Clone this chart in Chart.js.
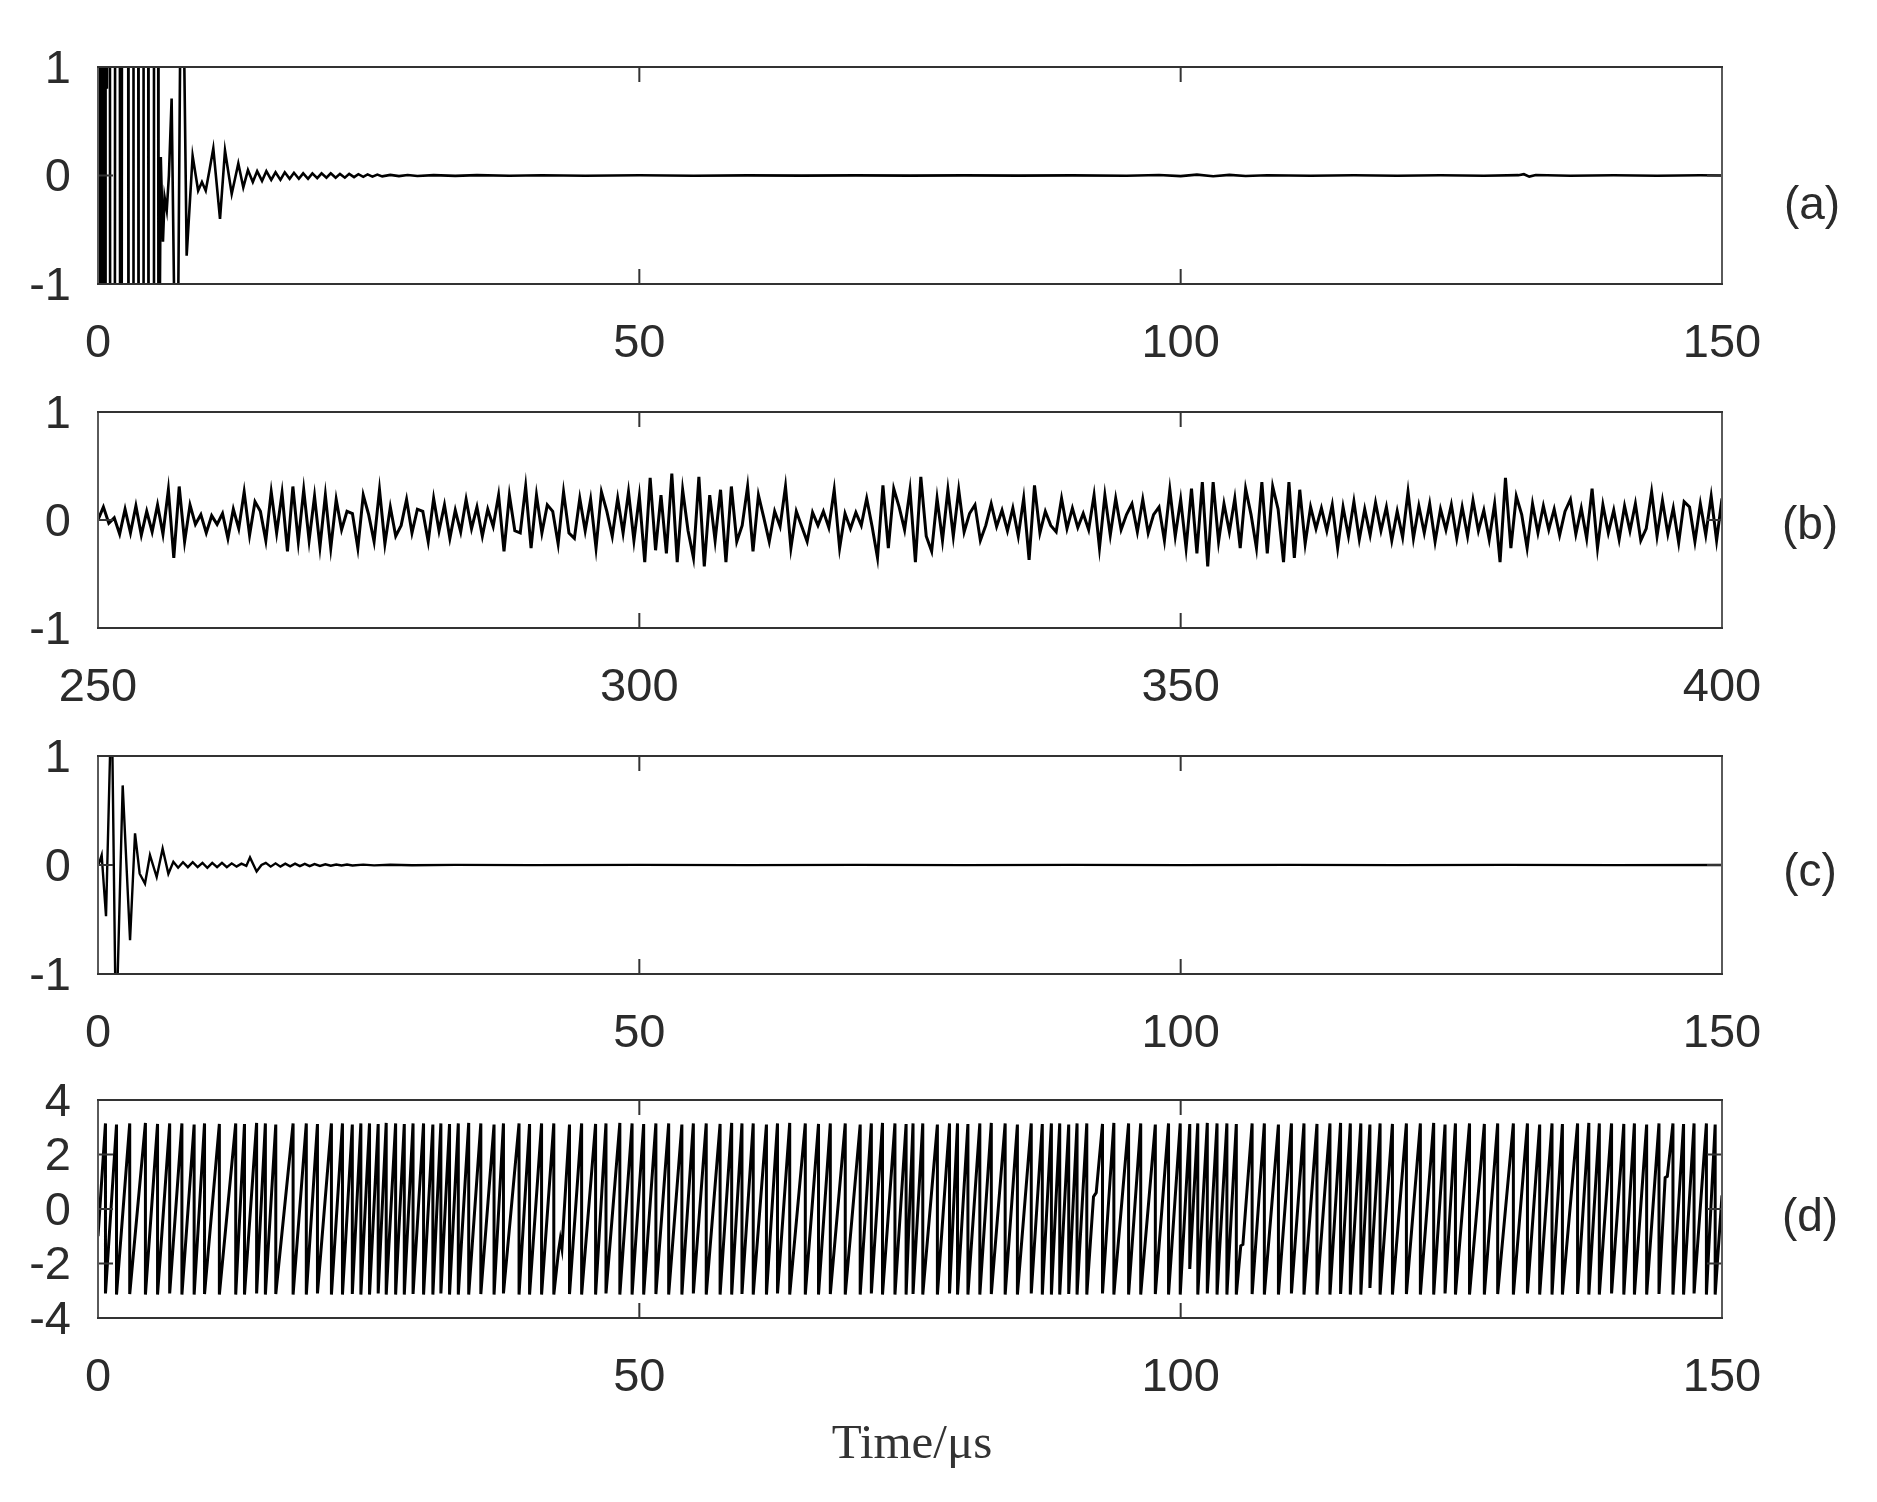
<!DOCTYPE html>
<html lang="en">
<head>
<meta charset="utf-8">
<title>Sinais no tempo</title>
<script src="https://cdn.jsdelivr.net/npm/chart.js@4.4.1/dist/chart.umd.min.js"></script>
<style>
    html, body { margin: 0; padding: 0; background: #ffffff; }
    body { position: relative; width: 1877px; height: 1502px; overflow: hidden; }
    canvas { position: absolute; left: 0; }
    .letra {
        position: absolute; transform: translate(-50%, -50%); line-height: 1; white-space: nowrap;
        font-family: 'Liberation Sans', Arial, sans-serif; font-size: 46px; color: #2b2b2b;
    }
    #tituloX { font-family: 'Liberation Serif', 'Times New Roman', serif; font-size: 49px; color: #333333; }
</style>
</head>
<body>
<canvas id="graficoA" width="1877" height="367" style="top:7px"></canvas>
<canvas id="graficoB" width="1877" height="366" style="top:352px"></canvas>
<canvas id="graficoC" width="1877" height="368" style="top:696px"></canvas>
<canvas id="graficoD" width="1877" height="368" style="top:1040px"></canvas>
<div class="letra" style="left:1812px; top:203px">(a)</div>
<div class="letra" style="left:1810px; top:523px">(b)</div>
<div class="letra" style="left:1810px; top:870px">(c)</div>
<div class="letra" style="left:1810px; top:1215px">(d)</div>
<div id="tituloX" class="letra" style="left:912px; top:1441px">Time/μs</div>

<script>
// ticks
const ticksTempo = [0, 50, 100, 150];
const ticksTempoB = [250, 300, 350, 400];
const ticksSinal = [-1, 0, 1];
const ticksFase = [-4, -2, 0, 2, 4];

// (a) tempo (us) e amplitude; +-3 = fora da janela (cortado)
const tempoA = [
    0.00, 0.06, 0.10, 0.27, 0.31, 0.47, 0.51, 0.66, 0.70, 0.78,
    0.82, 0.90, 1.09, 1.13, 1.55, 1.59, 2.01, 2.05, 2.18, 2.22,
    2.78, 2.82, 3.24, 3.28, 3.71, 3.75, 4.17, 4.21, 4.63, 4.67,
    5.13, 5.17, 5.55, 5.59, 5.80,
    6.00, 6.15, 6.35, 6.55, 6.80, 7.27, 7.73, 8.19, 8.74, 9.25,
    9.60, 9.95, 10.30, 10.65, 11.27, 11.73, 12.35, 12.96, 13.42, 13.85,
    14.30, 14.70, 15.15, 15.55, 16.00, 16.40, 16.85, 17.25, 17.70, 18.10,
    18.55, 18.95, 19.40, 19.80, 20.25, 20.65, 21.10, 21.50, 21.95, 22.35,
    22.80, 23.20, 23.65, 24.05, 24.50, 24.90, 25.35, 25.80, 26.25, 27.00,
    27.80, 28.60, 29.50, 31.0, 33.0, 35.0, 38.0, 41.0, 45.0, 50.0,
    55.0, 60.0, 65.0, 70.0, 75.0, 80.0, 85.0, 90.0, 95.0, 98.0,
    100.0, 101.5, 103.0, 104.5, 106.0, 108.0, 112.0, 116.0, 120.0, 124.0,
    128.0, 131.2, 131.7, 132.2, 132.8, 136.0, 140.0, 144.0, 148.0, 150.0
];
const sinalA = [
    0.0, 3.0, -3.0, -3.0, 3.0, 3.0, -3.0, -3.0, 3.0, 3.0,
    0.8, 3.0, 3.0, -3.0, -3.0, 3.0, 3.0, -3.0, -3.0, 3.0,
    3.0, -3.0, -3.0, 3.0, 3.0, -3.0, -3.0, 3.0, 3.0, -3.0,
    -3.0, 3.0, 3.0, -3.0, 0.17,
    -0.61, -0.20, -0.32, 0.00, 0.71, -3.0, 3.0, -0.74, 0.18, -0.14,
    -0.06, -0.14, 0.05, 0.25, -0.40, 0.23, -0.17, 0.11, -0.11, 0.05,
    -0.06, 0.04, -0.05, 0.04, -0.04, 0.03, -0.04, 0.03, -0.03, 0.025,
    -0.03, 0.02, -0.03, 0.02, -0.025, 0.02, -0.02, 0.02, -0.02, 0.015,
    -0.02, 0.015, -0.015, 0.012, -0.012, 0.01, -0.01, 0.008, -0.008, 0.006,
    -0.006, 0.005, -0.004, 0.003, -0.003, 0.003, -0.002, 0.002, -0.002, 0.002,
    -0.002, 0.001, -0.001, 0.001, -0.001, 0.001, -0.001, 0.001, -0.002, 0.004,
    -0.006, 0.008, -0.007, 0.006, -0.004, 0.002, -0.002, 0.002, -0.002, 0.002,
    -0.002, 0.003, 0.012, -0.01, 0.004, -0.002, 0.002, -0.002, 0.002, 0.0
];

// (b) amostras a cada 0.5 us a partir de 250 us
const inicioB = 250;
const passoB = 0.5;
const sinalB = [
    0.00, 0.12, -0.03, 0.02, -0.13, 0.10, -0.12, 0.13, -0.14, 0.08,
    -0.11, 0.14, -0.13, 0.28, -0.35, 0.31, -0.20, 0.14, -0.04, 0.05,
    -0.12, 0.04, -0.04, 0.06, -0.17, 0.10, -0.08, 0.26, -0.14, 0.17,
    0.08, -0.19, 0.26, -0.12, 0.25, -0.29, 0.31, -0.20, 0.28, -0.19,
    0.22, -0.25, 0.23, -0.26, 0.19, -0.09, 0.08, 0.06, -0.26, 0.23,
    0.05, -0.20, 0.28, -0.22, 0.12, -0.15, -0.05, 0.19, -0.12, 0.10,
    0.08, -0.20, 0.20, -0.10, 0.14, -0.17, 0.09, -0.11, 0.19, -0.08,
    0.12, -0.15, 0.10, -0.06, 0.23, -0.29, 0.23, -0.10, -0.12, 0.31,
    -0.26, 0.23, -0.12, 0.14, 0.08, -0.22, 0.26, -0.12, -0.17, 0.20,
    -0.10, 0.19, -0.26, 0.26, 0.08, -0.15, 0.20, -0.12, 0.26, -0.19,
    0.22, -0.39, 0.39, -0.28, 0.23, -0.31, 0.43, -0.39, 0.28, -0.10,
    -0.35, 0.40, -0.43, 0.23, -0.19, 0.28, -0.39, 0.31, -0.20, -0.05,
    0.31, -0.29, 0.23, 0.02, -0.20, 0.08, -0.06, 0.31, -0.26, 0.08,
    -0.06, -0.20, 0.07, -0.05, 0.08, -0.07, 0.28, -0.26, 0.06, -0.08,
    0.07, -0.05, 0.20, -0.06, -0.35, 0.32, -0.26, 0.29, 0.12, -0.09,
    0.28, -0.39, 0.40, -0.15, -0.29, 0.20, -0.19, 0.28, -0.15, 0.28,
    -0.11, 0.06, 0.14, -0.19, -0.05, 0.15, -0.06, 0.09, -0.10, 0.11,
    -0.15, 0.20, -0.37, 0.32, -0.12, 0.08, -0.05, -0.11, 0.20, -0.08,
    0.11, -0.07, 0.06, -0.09, 0.23, -0.26, 0.23, -0.14, 0.20, -0.09,
    0.05, 0.15, -0.11, 0.19, -0.12, 0.05, 0.12, -0.19, 0.28, -0.15,
    0.19, -0.26, 0.29, -0.31, 0.35, -0.43, 0.35, -0.20, 0.15, -0.11,
    0.20, -0.26, 0.29, 0.05, -0.26, 0.35, -0.31, 0.31, 0.10, -0.39,
    0.35, -0.35, 0.28, -0.22, 0.12, -0.08, 0.11, -0.10, 0.14, -0.26,
    0.12, -0.15, 0.17, -0.18, 0.10, -0.14, 0.16, -0.10, 0.12, -0.19,
    0.08, -0.16, 0.26, -0.17, 0.13, -0.12, 0.15, -0.20, 0.10, -0.09,
    0.14, -0.17, 0.12, -0.15, 0.18, -0.10, 0.09, -0.18, 0.15, -0.39,
    0.39, -0.26, 0.22, 0.05, -0.26, 0.15, -0.12, 0.13, -0.09, 0.10,
    -0.14, 0.08, 0.19, -0.13, 0.11, -0.17, 0.29, -0.26, 0.14, -0.12,
    0.09, -0.18, 0.13, -0.10, 0.15, -0.19, -0.08, 0.26, -0.15, 0.18,
    -0.13, 0.11, -0.21, 0.17, 0.12, -0.20, 0.15, -0.14, 0.22, -0.19,
    0.20
];

// (c)
const tempoC = [
    0.00, 0.15, 0.34, 0.74, 1.26, 1.66, 2.28, 2.96, 3.42, 3.85,
    4.34, 4.80, 5.42, 5.97, 6.50, 6.96, 7.40, 7.85, 8.30, 8.75,
    9.20, 9.65, 10.10, 10.55, 11.00, 11.45, 11.90, 12.35, 12.80, 13.25,
    13.70, 14.04, 14.65, 15.10, 15.50, 15.95, 16.40, 16.85, 17.30, 17.75,
    18.20, 18.65, 19.10, 19.55, 20.00, 20.50, 21.00, 21.50, 22.00, 22.50,
    23.00, 23.50, 24.50, 25.50, 27.00, 29.00, 33.0, 40.0, 50.0, 60.0,
    70.0, 80.0, 90.0, 100.0, 110.0, 120.0, 130.0, 140.0, 150.0
];
const sinalC = [
    0.00, 0.03, 0.09, -0.47, 1.6, -1.6, 0.73, -0.69, 0.29, -0.08,
    -0.17, 0.09, -0.11, 0.15, -0.08, 0.03, -0.025, 0.025, -0.02, 0.025,
    -0.02, 0.02, -0.025, 0.02, -0.02, 0.02, -0.02, 0.015, -0.015, 0.012,
    -0.008, 0.07, -0.06, 0.00, 0.02, -0.015, 0.015, -0.015, 0.012, -0.012,
    0.012, -0.01, 0.01, -0.01, 0.008, -0.008, 0.007, -0.006, 0.005, -0.005,
    0.004, -0.004, 0.003, -0.003, 0.002, -0.002, 0.001, -0.001, 0.001, -0.001,
    0.001, -0.001, 0.001, -0.001, 0.001, -0.001, 0.001, -0.001, 0.0
];

// (d) fase: instantes de salto, valor antes e depois do salto
const saltosD = [
    0.69, 1.71, 2.93, 4.38, 5.50, 6.62, 7.75, 8.88, 9.84, 11.21,
    12.72, 13.53, 14.65, 15.46, 16.42, 18.02, 19.24, 20.27, 21.56, 22.58,
    23.49, 24.28, 25.08, 25.88, 26.62, 27.49, 28.29, 29.10, 30.07, 30.93,
    31.67, 32.47, 33.28, 34.24, 35.36, 36.58, 37.45, 38.89, 39.86, 40.97,
    42.10, 43.55, 44.67, 45.96, 46.92, 48.20, 49.33, 50.40, 51.53, 52.71,
    53.93, 54.99, 56.18, 57.46, 58.53, 59.48, 60.52, 61.74, 62.76, 63.89,
    65.33, 66.55, 67.64, 69.02, 70.40, 71.43, 72.46, 73.61, 74.64, 75.28,
    76.18, 77.53, 78.65, 79.39, 80.35, 81.45, 82.51, 83.79, 84.92, 86.20,
    87.22, 88.06, 88.83, 89.66, 90.43, 91.33, 92.78, 93.83, 95.19, 96.31,
    97.66, 98.88, 99.96, 100.84, 101.58, 102.46, 103.36, 104.27, 105.14, 106.60,
    107.73, 109.03, 110.23, 111.39, 112.59, 113.79, 114.77, 115.67, 116.64, 117.48,
    118.42, 119.56, 120.85, 122.14, 123.37, 124.42, 125.38, 126.68, 128.05, 129.28,
    130.73, 132.03, 133.16, 134.30, 135.26, 136.66, 137.70, 138.67, 139.80, 140.93,
    141.91, 143.04, 144.18, 145.47, 146.45, 147.42, 148.56, 149.37
];
const topoD = [
    3.14, 3.10, 3.14, 3.16, 3.12, 3.14, 3.14, 3.10, 3.14, 3.12,
    3.14, 3.12, 3.16, 3.14, 3.10, 3.14, 3.14, 3.12, 3.14, 3.14,
    3.10, 3.14, 3.14, 3.12, 3.16, 3.14, 3.12, 3.14, 3.14, 3.10,
    3.14, 3.12, 3.14, 3.16, 3.14, 3.10, 3.14, 3.14, 3.12, 3.14,
    3.14, 3.10, 3.14, 3.12, 3.14, 3.16, 3.14, 3.12, 3.14, 3.14,
    3.10, 3.14, 3.14, 3.12, 3.16, 3.14, 3.14, 3.10, 3.14, 3.16,
    3.14, 3.12, 3.14, 3.14, 3.10, 3.14, 3.16, 3.14, 3.12, 3.14,
    3.14, 3.10, 3.14, 3.14, 3.12, 3.14, 3.16, 3.14, 3.10, 3.14,
    3.12, 3.14, 3.14, 3.10, 3.14, 3.14, 3.12, 3.16, 3.14, 3.14,
    3.10, 3.14, 3.14, 3.12, 3.14, 3.16, 3.14, 3.14, 3.12, 3.14,
    3.14, 3.10, 3.14, 3.14, 3.12, 3.14, 3.16, 3.14, 3.14, 3.10,
    3.14, 3.12, 3.14, 3.14, 3.16, 3.10, 3.14, 3.14, 3.12, 3.14,
    3.14, 3.14, 3.10, 3.14, 3.12, 3.14, 3.16, 3.14, 3.14, 3.12,
    3.14, 3.10, 3.14, 3.14, 3.12, 3.14, 3.14, 3.10
];
const baseD = [
    -3.10, -3.14, -3.12, -3.14, -3.14, -3.10, -3.14, -3.14, -3.12, -3.14,
    -3.14, -3.14, -3.10, -3.14, -3.12, -3.14, -3.14, -3.10, -3.14, -3.14,
    -3.12, -3.14, -3.14, -3.10, -3.14, -3.14, -3.14, -3.12, -3.14, -3.14,
    -3.10, -3.14, -3.14, -3.14, -3.12, -3.14, -3.10, -3.14, -3.14, -3.14,
    -3.14, -3.12, -3.14, -3.14, -3.10, -3.14, -3.14, -3.14, -3.12, -3.14,
    -3.14, -3.10, -3.14, -3.14, -3.14, -3.12, -3.14, -3.14, -3.10, -3.14,
    -3.14, -3.14, -3.12, -3.14, -3.14, -3.10, -3.14, -3.14, -3.14, -3.12,
    -3.14, -3.14, -3.10, -3.14, -3.14, -3.14, -3.12, -3.14, -3.14, -3.10,
    -3.14, -3.14, -3.14, -3.12, -3.14, -3.14, -3.10, -3.14, -3.14, -3.14,
    -3.12, -3.14, -3.14, -2.20, -3.14, -3.10, -3.14, -3.14, -3.14, -3.12,
    -3.14, -3.14, -3.10, -3.14, -3.14, -3.14, -3.12, -3.14, -3.14, -2.90,
    -3.14, -3.14, -3.12, -3.14, -3.14, -3.10, -3.14, -3.14, -3.14, -3.12,
    -3.14, -3.10, -3.14, -3.14, -3.14, -3.12, -3.14, -3.14, -3.10, -3.14,
    -3.14, -3.14, -3.12, -3.14, -3.14, -3.10, -3.14, -3.14
];
// pontos fora do dente de serra (inicio, fim e pequenos desvios)
const tempoExtraD = [0.00, 42.55, 42.70, 42.85, 91.95, 92.20, 105.55, 105.75, 144.75, 144.95, 150.0];
const faseExtraD = [-1.0, -1.5, -1.1, -1.45, 0.45, 0.60, -1.35, -1.30, 1.15, 1.20, 0.50];

(function () {
    const paleta = {
        linha: '#000000',
        texto: '#2b2b2b',
        borda: '#333333',
        lateral: '#5a5a5a'
    };

    Chart.defaults.font.family = "'Liberation Sans', Arial, sans-serif";
    Chart.defaults.font.size = 47;
    Chart.defaults.color = paleta.texto;

    // moldura e marcas de escala para dentro
    const moldura = {
        id: 'moldura',
        afterDatasetsDraw(chart) {
            const { ctx, chartArea: { left, right, top, bottom }, scales: { x, y } } = chart;
            const tam = 15;
            ctx.save();
            ctx.lineWidth = 2;
            ctx.strokeStyle = paleta.borda;
            ctx.beginPath();
            x.ticks.forEach(t => {
                const px = x.getPixelForValue(t.value);
                ctx.moveTo(px, bottom); ctx.lineTo(px, bottom - tam);
                ctx.moveTo(px, top); ctx.lineTo(px, top + tam);
            });
            y.ticks.forEach(t => {
                const py = y.getPixelForValue(t.value);
                ctx.moveTo(left, py); ctx.lineTo(left + tam, py);
                ctx.moveTo(right, py); ctx.lineTo(right - tam, py);
            });
            ctx.stroke();
            ctx.strokeStyle = paleta.lateral;
            ctx.beginPath();
            ctx.moveTo(left, top); ctx.lineTo(left, bottom);
            ctx.moveTo(right, top); ctx.lineTo(right, bottom);
            ctx.stroke();
            ctx.strokeStyle = paleta.borda;
            ctx.beginPath();
            ctx.moveTo(left - 1, top); ctx.lineTo(right + 1, top);
            ctx.moveTo(left - 1, bottom); ctx.lineTo(right + 1, bottom);
            ctx.stroke();
            ctx.restore();
        }
    };

    function painel(canvas, pontos, listaX, listaY, espessura) {
        if (!canvas) return;
        new Chart(canvas, {
            type: 'line',
            data: {
                datasets: [{
                    data: pontos,
                    borderColor: paleta.linha,
                    borderWidth: espessura,
                    pointRadius: 0,
                    tension: 0,
                    fill: false
                }]
            },
            options: {
                responsive: false,
                animation: false,
                events: [],
                layout: { padding: { top: 60, right: 155, bottom: 0, left: 0 } },
                plugins: {
                    legend: { display: false },
                    tooltip: { enabled: false }
                },
                scales: {
                    x: {
                        type: 'linear',
                        min: listaX[0],
                        max: listaX[listaX.length - 1],
                        grid: { display: false, drawTicks: false },
                        border: { display: false },
                        ticks: { padding: 32, maxRotation: 0, autoSkip: false },
                        afterBuildTicks: s => { s.ticks = listaX.map(v => ({ value: v })); },
                        afterFit: s => { s.height = 90; }
                    },
                    y: {
                        min: listaY[0],
                        max: listaY[listaY.length - 1],
                        grid: { display: false, drawTicks: false },
                        border: { display: false },
                        ticks: { padding: 27, labelOffset: 3, autoSkip: false },
                        afterBuildTicks: s => { s.ticks = listaY.map(v => ({ value: v })); },
                        afterFit: s => { s.width = 98; }
                    }
                }
            },
            plugins: [moldura]
        });
    }

    //painel (a)
    const pontosA = tempoA.map((t, i) => ({ x: t, y: sinalA[i] }));
    painel(document.getElementById('graficoA'), pontosA, ticksTempo, ticksSinal, 2.6);

    //painel (b)
    const pontosB = sinalB.map((v, i) => ({ x: inicioB + i * passoB, y: v }));
    painel(document.getElementById('graficoB'), pontosB, ticksTempoB, ticksSinal, 3);

    //painel (c)
    const pontosC = tempoC.map((t, i) => ({ x: t, y: sinalC[i] }));
    painel(document.getElementById('graficoC'), pontosC, ticksTempo, ticksSinal, 2.4);

    //painel (d)
    const pontosD = [];
    saltosD.forEach((t, i) => {
        pontosD.push({ x: t, y: topoD[i] }, { x: t, y: baseD[i] });
    });
    tempoExtraD.forEach((t, i) => pontosD.push({ x: t, y: faseExtraD[i] }));
    pontosD.sort((p, q) => p.x - q.x);
    painel(document.getElementById('graficoD'), pontosD, ticksTempo, ticksFase, 3);
})();
</script>
</body>
</html>
